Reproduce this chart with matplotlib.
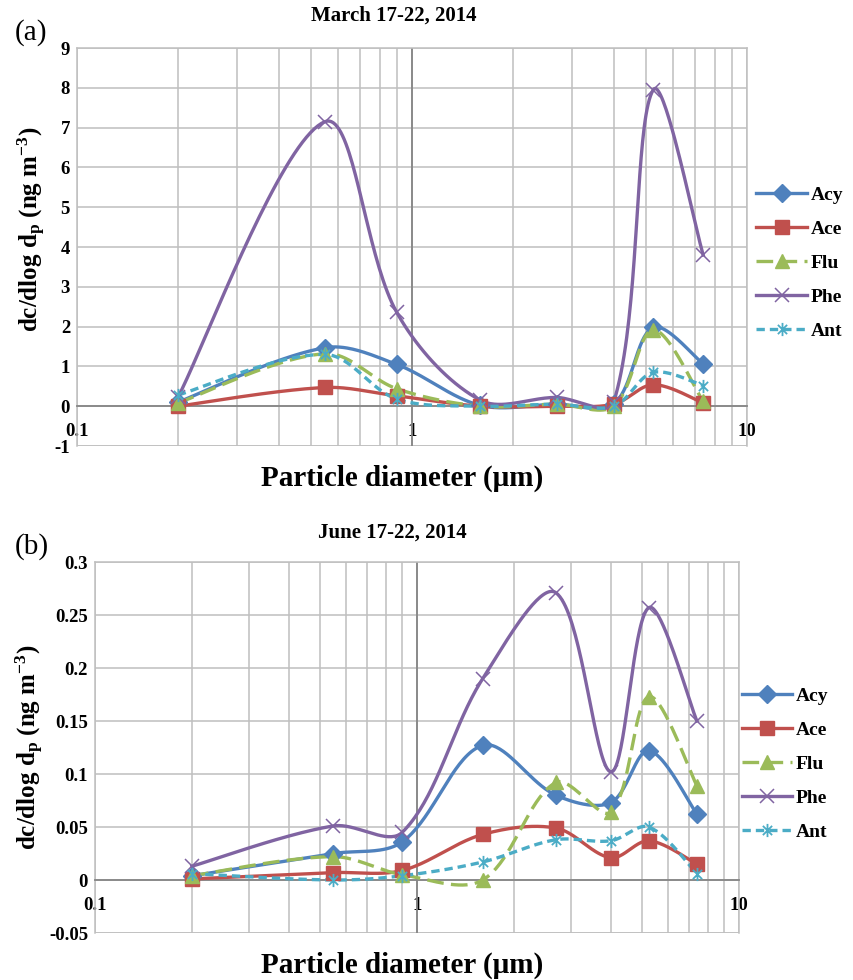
import matplotlib
matplotlib.use('Agg')
import matplotlib.pyplot as plt
from matplotlib.lines import Line2D
from matplotlib.path import Path
import numpy as np

plt.rcParams['font.family'] = ['Liberation Serif', 'DejaVu Serif']
plt.rcParams['font.weight'] = 'bold'
plt.rcParams['mathtext.fontset'] = 'custom'
plt.rcParams['mathtext.rm'] = 'Liberation Serif:bold'
plt.rcParams['mathtext.default'] = 'rm'

# particle diameter (um), stage midpoints
dp = [0.2, 0.55, 0.9, 1.6, 2.7, 4.0, 5.25, 7.4]
species = ['Acy', 'Ace', 'Flu', 'Phe', 'Ant']

# (a) March 17-22, 2014
mar_acy = [0.10, 1.47, 1.05, 0.02, 0.05, 0.05, 1.98, 1.06]
mar_ace = [0.00, 0.47, 0.26, 0.00, 0.00, 0.05, 0.54, 0.08]
mar_flu = [0.08, 1.32, 0.44, 0.00, 0.05, 0.00, 1.92, 0.12]
mar_phe = [0.22, 7.15, 2.36, 0.15, 0.22, 0.10, 7.95, 3.80]
mar_ant = [0.28, 1.30, 0.18, 0.00, 0.05, 0.00, 0.85, 0.52]

# (b) June 17-22, 2014
jun_acy = [0.004, 0.025, 0.036, 0.127, 0.080, 0.073, 0.122, 0.062]
jun_ace = [0.001, 0.007, 0.009, 0.043, 0.049, 0.021, 0.037, 0.015]
jun_flu = [0.004, 0.022, 0.005, 0.000, 0.092, 0.064, 0.173, 0.089]
jun_phe = [0.013, 0.051, 0.045, 0.190, 0.271, 0.102, 0.257, 0.150]
jun_ant = [0.006, 0.000, 0.004, 0.017, 0.038, 0.037, 0.050, 0.006]

colors = ['#4F81BD', '#C0504D', '#9BBB59', '#8064A2', '#4BACC6']

# asterisk marker like the Excel "star"
star = Path([(-0.7, -0.7), (0.7, 0.7), (-0.7, 0.7), (0.7, -0.7), (0, -1), (0, 1)],
            [Path.MOVETO, Path.LINETO, Path.MOVETO, Path.LINETO, Path.MOVETO, Path.LINETO])

styles = [
    dict(ls='-', marker='D', ms=9, mfc=colors[0], mec=colors[0], mew=1),
    dict(ls='-', marker='s', ms=9.5, mfc=colors[1], mec=colors[1], mew=1),
    dict(ls=(0, (5, 2.2)), marker='^', ms=9.5, mfc=colors[2], mec=colors[2], mew=1),
    dict(ls='-', marker='x', ms=9.5, mfc='none', mec=colors[3], mew=1.1),
    dict(ls=(0, (2.5, 1.5)), marker=star, ms=9.5, mfc='none', mec=colors[4], mew=1.3),
]


def excel_smooth(ax, x, y, n=40):
    # bezier smoothing done in screen space, tangents weighted by segment length
    P = ax.transData.transform(np.column_stack([x, y]))
    m = len(P)
    cout = np.zeros_like(P)
    cin = np.zeros_like(P)
    for i in range(m):
        if i == 0:
            cout[i] = P[0] + (P[1] - P[0]) / 6
            continue
        if i == m - 1:
            cin[i] = P[i] - (P[i] - P[i - 1]) / 6
            continue
        d0 = np.hypot(*(P[i] - P[i - 1]))
        d1 = np.hypot(*(P[i + 1] - P[i]))
        T = P[i + 1] - P[i - 1]
        cin[i] = P[i] - T * d0 / (d0 + d1) / 3
        cout[i] = P[i] + T * d1 / (d0 + d1) / 3
    t = np.linspace(0, 1, n)[:, None]
    segs = []
    for i in range(m - 1):
        p1, c1, c2, p2 = P[i], cout[i], cin[i + 1], P[i + 1]
        seg = (1 - t)**3 * p1 + 3 * (1 - t)**2 * t * c1 + 3 * (1 - t) * t**2 * c2 + t**3 * p2
        segs.append(seg if i == 0 else seg[1:])
    s = ax.transData.inverted().transform(np.vstack(segs))
    return s[:, 0], s[:, 1]


def draw_panel(ax, series, ylim, yticks, ylabels):
    ax.set_xscale('log')
    ax.set_xlim(0.1, 10)
    ax.set_ylim(*ylim)
    ax.set_yticks(yticks)
    ax.set_yticklabels(ylabels)
    ax.set_xticks([0.1, 1, 10])
    ax.set_xticklabels(['0.1', '1', '10'])
    ax.set_xticks([v * d for d in (0.1, 1) for v in range(2, 10)], minor=True)
    ax.set_xticklabels([], minor=True)
    ax.grid(True, which='both', axis='x', color='#bfbfbf', lw=1.1)
    ax.grid(True, which='major', axis='y', color='#bfbfbf', lw=1.1)
    ax.set_axisbelow(True)
    for s in ['top', 'right', 'left']:
        ax.spines[s].set_color('#bfbfbf')
        ax.spines[s].set_linewidth(1.1)
    ax.spines['bottom'].set_position(('data', 0))
    ax.spines['bottom'].set_color('#868686')
    ax.spines['bottom'].set_linewidth(1.3)
    ax.axhline(ylim[0], color='#bfbfbf', lw=1.1, zorder=0.5)
    ax.axvline(1, color='#868686', lw=1.3, zorder=0.6)
    ax.tick_params(axis='both', which='both', length=0, labelsize=13.5)
    ax.tick_params(axis='x', pad=12)
    ax.tick_params(axis='y', pad=5)
    for lab in ax.get_xticklabels() + ax.get_yticklabels():
        lab.set_fontweight('bold')
    handles = []
    for name, vals, c, st in zip(species, series, colors, styles):
        xs, ys = excel_smooth(ax, dp, vals)
        ax.plot(xs, ys, color=c, lw=2.4, ls=st['ls'], zorder=3, clip_on=False)
        ax.plot(dp, vals, ls='none', marker=st['marker'], ms=st['ms'], mfc=st['mfc'],
                mec=st['mec'], mew=st['mew'], zorder=4, clip_on=False)
        handles.append(Line2D([], [], color=c, lw=2.4, ls=st['ls'], marker=st['marker'],
                              ms=st['ms'], mfc=st['mfc'], mec=st['mec'], mew=st['mew'], label=name))
    ax.set_ylabel(r'dc/dlog d$_{p}$ (ng m$^{-3}$)', fontsize=18, fontweight='bold')
    return handles


fig = plt.figure(figsize=(8.54, 9.8), dpi=100)
leg_kw = dict(loc='center left', frameon=False, handlelength=2.6, handletextpad=0.2,
              labelspacing=0.85, prop={'weight': 'bold', 'size': 14})

# panel (a)
ax1 = fig.add_axes([77 / 854, 1 - 446 / 980, 670 / 854, 398 / 980])
h1 = draw_panel(ax1, [mar_acy, mar_ace, mar_flu, mar_phe, mar_ant], (-1, 9),
                list(range(-1, 10)), [str(v) for v in range(-1, 10)])
ax1.yaxis.set_label_coords(-29 / 670, 0.545)
ax1.legend(handles=h1, bbox_to_anchor=(739 / 854, 1 - 263 / 980),
           bbox_transform=fig.transFigure, **leg_kw)
fig.text(394 / 854, 1 - 16 / 980, 'March 17-22, 2014', ha='center', va='center', fontsize=15, fontweight='bold')
fig.text(15 / 854, 1 - 33 / 980, '(a)', ha='left', va='center', fontsize=21, fontweight='normal')
fig.text(402 / 854, 1 - 478 / 980, 'Particle diameter (\u03bcm)', ha='center', va='center', fontsize=21, fontweight='bold')

# panel (b)
ax2 = fig.add_axes([95 / 854, 1 - 933 / 980, 644 / 854, 371 / 980])
h2 = draw_panel(ax2, [jun_acy, jun_ace, jun_flu, jun_phe, jun_ant], (-0.05, 0.3),
                [-0.05, 0, 0.05, 0.1, 0.15, 0.2, 0.25, 0.3],
                ['-0.05', '0', '0.05', '0.1', '0.15', '0.2', '0.25', '0.3'])
ax2.yaxis.set_label_coords(-49 / 644, 0.5)
ax2.legend(handles=h2, bbox_to_anchor=(724 / 854, 1 - 764 / 980),
           bbox_transform=fig.transFigure, **leg_kw)
fig.text(392 / 854, 1 - 533 / 980, 'June 17-22, 2014', ha='center', va='center', fontsize=15, fontweight='bold')
fig.text(15 / 854, 1 - 547 / 980, '(b)', ha='left', va='center', fontsize=21, fontweight='normal')
fig.text(402 / 854, 1 - 965 / 980, 'Particle diameter (\u03bcm)', ha='center', va='center', fontsize=21, fontweight='bold')

fig.savefig('out.png', dpi=100)
